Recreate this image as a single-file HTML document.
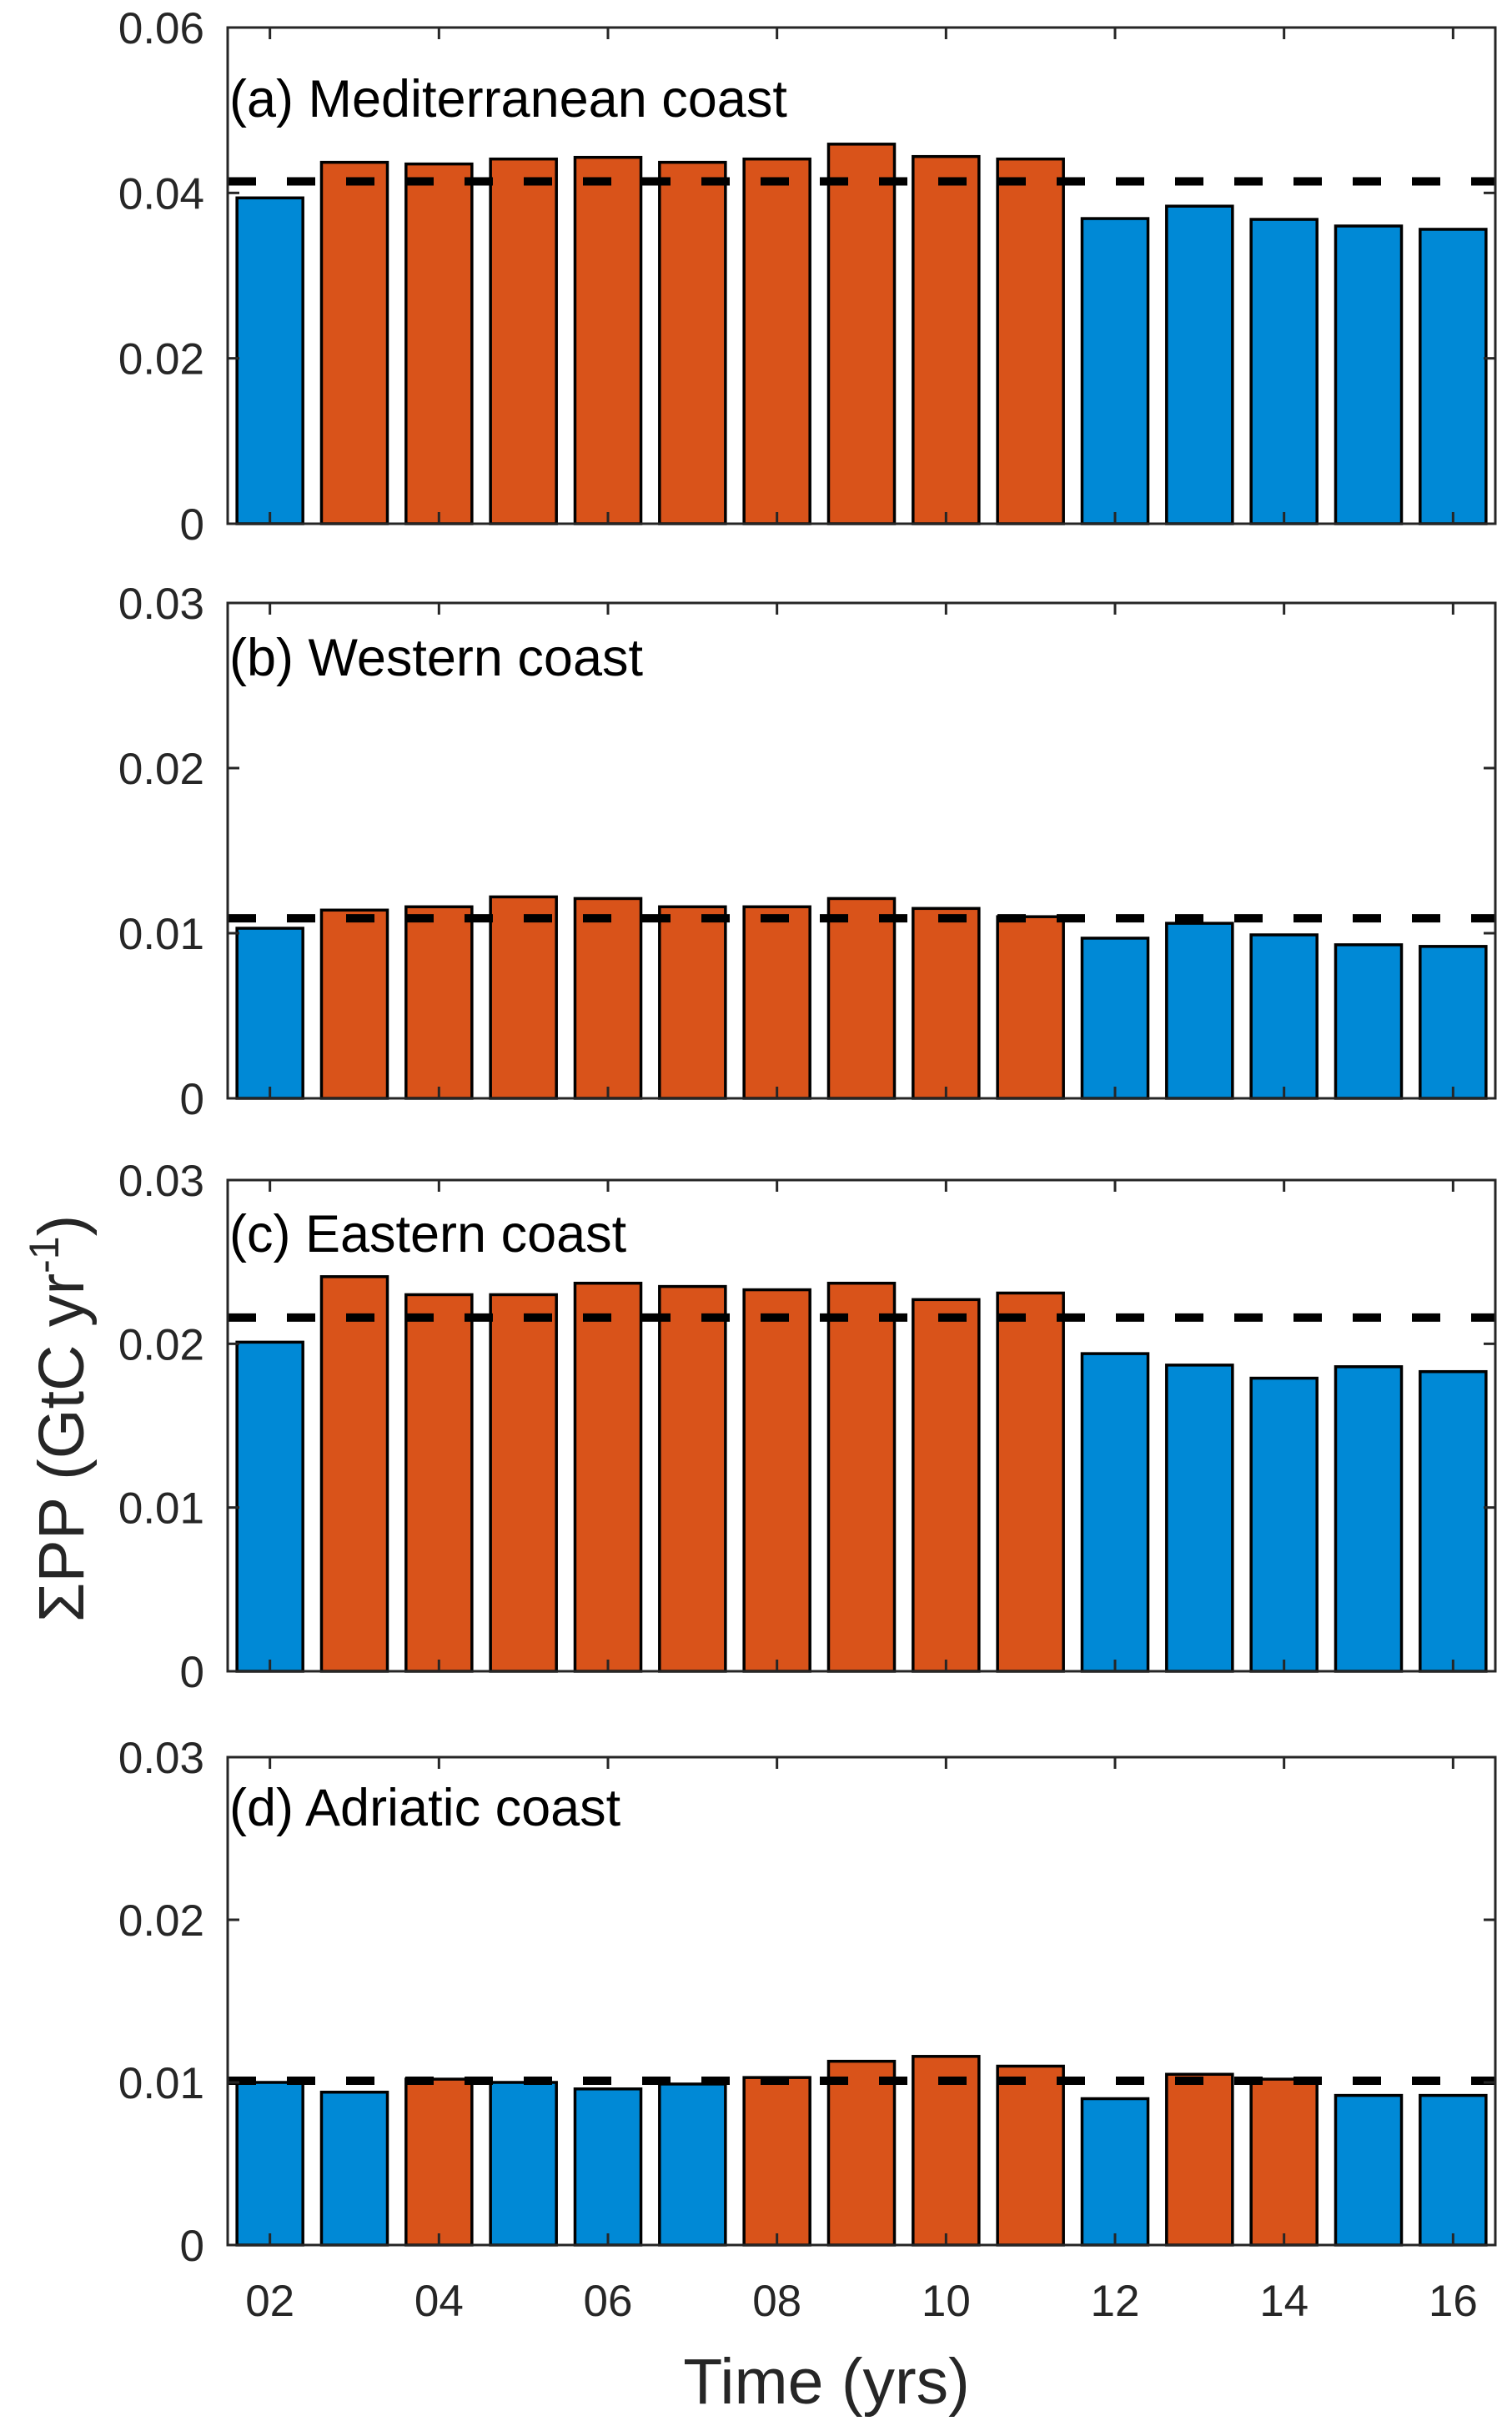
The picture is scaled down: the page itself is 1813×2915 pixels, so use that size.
<!DOCTYPE html>
<html><head><meta charset="utf-8"><style>
html,body{margin:0;padding:0;background:#fff;}
svg{display:block;font-family:"Liberation Sans",Arial,sans-serif;}
</style></head><body>
<svg id="fig" width="1813" height="2915" viewBox="0 0 1813 2915" xmlns="http://www.w3.org/2000/svg"></svg>
<script>
const years = ["02","03","04","05","06","07","08","09","10","11","12","13","14","15","16"];
const xTickLabels = ["02","04","06","08","10","12","14","16"];
const titles = ["(a) Mediterranean coast","(b) Western coast","(c) Eastern coast","(d) Adriatic coast"];
const yMax = [0.06, 0.03, 0.03, 0.03];
const yTickA = ["0","0.02","0.04","0.06"];
const yTickB = ["0","0.01","0.02","0.03"];
const valsA = [0.0394,0.0437,0.0435,0.0441,0.0443,0.0437,0.0441,0.0459,0.0444,0.0441,0.0369,0.0384,0.0368,0.0360,0.0356];
const valsB = [0.0103,0.0114,0.0116,0.0122,0.0121,0.0116,0.0116,0.0121,0.0115,0.0110,0.0097,0.0106,0.0099,0.0093,0.0092];
const valsC = [0.0201,0.0241,0.0230,0.0230,0.0237,0.0235,0.0233,0.0237,0.0227,0.0231,0.0194,0.0187,0.0179,0.0186,0.0183];
const valsD = [0.0100,0.0094,0.0102,0.0100,0.0096,0.0099,0.0103,0.0113,0.0116,0.0110,0.0090,0.0105,0.0102,0.0092,0.0092];
const means = [0.0414, 0.0109, 0.0216, 0.0101];

const NS="http://www.w3.org/2000/svg";
const svg=document.getElementById('fig');
function mk(tag,attrs,parent){const e=document.createElementNS(NS,tag);for(const k in attrs)e.setAttribute(k,attrs[k]);(parent||svg).appendChild(e);return e;}

const X0=273, X1=1793;
const panels=[{t:33,b:628},{t:723,b:1317},{t:1415,b:2004},{t:2107,b:2692}];
const titleBase=[140,810,1501,2189];
const allVals=[valsA,valsB,valsC,valsD];
const allTicks=[yTickA,yTickB,yTickB,yTickB];
const n=years.length;
const xScale=i=>X0+(i+0.5)*(X1-X0)/n;
const step=(X1-X0)/n;
const BLUE="#0089d6", ORANGE="#d9531a";

panels.forEach((p,pi)=>{
  const g=mk('g',{});
  
  
  const y=v=>p.b-(v/yMax[pi])*(p.b-p.t);
  const vals=allVals[pi];
  vals.forEach((v,i)=>{
    const cx=xScale(i), w=step*0.78;
    const r=mk('rect',{x:cx-w/2,y:y(v),width:w,height:p.b-y(v),fill:v>means[pi]?ORANGE:BLUE,stroke:"#000","stroke-width":3.5},g);
    
    
  });
  const ml=mk('line',{x1:X0,x2:X1,y1:y(means[pi]),y2:y(means[pi]),stroke:"#000","stroke-width":10,"stroke-dasharray":"34 37"},g);
  
  
  const box=mk('rect',{x:X0,y:p.t,width:X1-X0,height:p.b-p.t,fill:"none",stroke:"#262626","stroke-width":3},g);
  
  
  xTickLabels.forEach(lbl=>{
    const i=years.indexOf(lbl), cx=xScale(i);
    mk('line',{x1:cx,x2:cx,y1:p.b,y2:p.b-14,stroke:"#262626","stroke-width":3},g);
    mk('line',{x1:cx,x2:cx,y1:p.t,y2:p.t+14,stroke:"#262626","stroke-width":3},g);
  });
  const ticks=allTicks[pi];
  ticks.forEach((lbl,k)=>{
    const v=yMax[pi]*k/(ticks.length-1), ty=y(v);
    mk('line',{x1:X0,x2:X0+14,y1:ty,y2:ty,stroke:"#262626","stroke-width":3},g);
    mk('line',{x1:X1,x2:X1-14,y1:ty,y2:ty,stroke:"#262626","stroke-width":3},g);
    const t=mk('text',{x:245,y:ty+19,"text-anchor":"end","font-size":53,fill:"#262626"},g);
    t.textContent=lbl;
    
    
  });
  const tt=mk('text',{x:X0+2,y:titleBase[pi],"font-size":63,fill:"#000"},g);
  tt.textContent=titles[pi];
  
  
});
xTickLabels.forEach(lbl=>{
  const i=years.indexOf(lbl);
  const t=mk('text',{x:xScale(i),y:2777,"text-anchor":"middle","font-size":53,fill:"#262626"});
  t.textContent=lbl;
  
  
});
const xl=mk('text',{x:991,y:2882,"text-anchor":"middle","font-size":77,fill:"#262626"});
xl.textContent="Time (yrs)";


const yl=mk('text',{x:0,y:0,"text-anchor":"middle","font-size":77,fill:"#262626",transform:"translate(100,1701) rotate(-90)"});


yl.appendChild(document.createTextNode("ΣPP (GtC yr"));
const sup=mk('tspan',{dy:-30,"font-size":50},yl);
sup.textContent="-1";
const cl=mk('tspan',{dy:30},yl);
cl.textContent=")";
</script>
</body></html>
